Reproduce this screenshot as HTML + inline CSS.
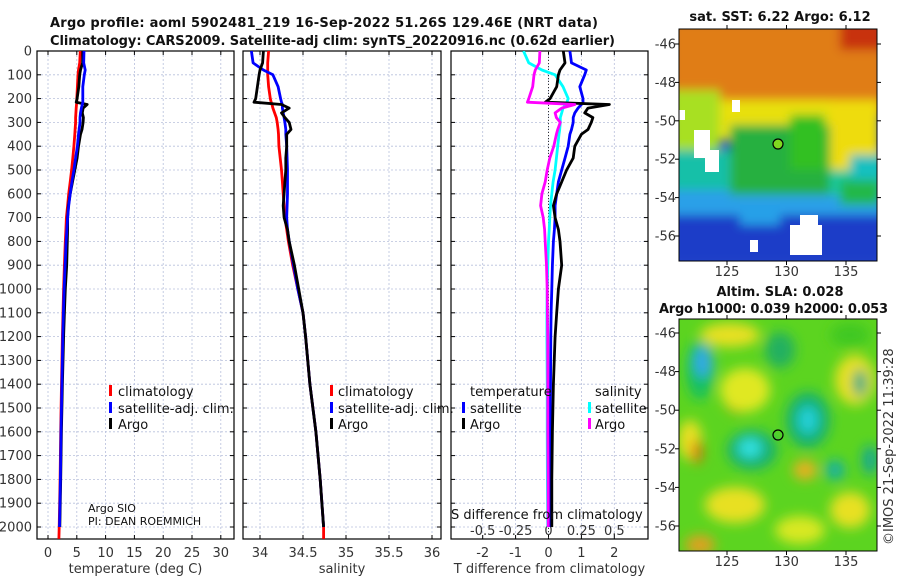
<!DOCTYPE html>
<html><head><meta charset="utf-8"><style>
html,body{margin:0;padding:0;background:#fff;}
svg{display:block;font-family:"DejaVu Sans","Liberation Sans",sans-serif;}
.tl{font-size:13px;fill:#333;}
.tt{font-size:13px;font-weight:bold;fill:#111;}
.lg{font-size:13px;fill:#111;}
</style></head><body>
<svg id="fig" width="900" height="580" viewBox="0 0 900 580">
<defs>
<clipPath id="c1"><rect x="37" y="51" width="197" height="488"/></clipPath>
<clipPath id="c2"><rect x="243" y="51" width="198" height="488"/></clipPath>
<clipPath id="c3"><rect x="451" y="51" width="197" height="488"/></clipPath>
<clipPath id="cm1"><rect x="679" y="29" width="198" height="232"/></clipPath>
<clipPath id="cm2"><rect x="679" y="319" width="198" height="232"/></clipPath>
<filter id="bl" x="-50%" y="-50%" width="200%" height="200%"><feGaussianBlur stdDeviation="6"/></filter>
<filter id="bl2" filterUnits="userSpaceOnUse" x="650" y="0" width="260" height="290"><feGaussianBlur stdDeviation="5"/></filter>
</defs>
<text class="tt" x="50" y="27" textLength="548">Argo profile: aoml 5902481_219 16-Sep-2022 51.26S 129.46E (NRT data)</text>
<text class="tt" x="50" y="45" textLength="565">Climatology: CARS2009. Satellite-adj clim: synTS_20220916.nc (0.62d earlier)</text>
<g id="axes"></g>
<g id="lines"></g>

<g>
<rect x="109" y="385" width="3" height="11" fill="#f00"/><text class="lg" x="118" y="396">climatology</text>
<rect x="109" y="402" width="3" height="11" fill="#00f"/><text class="lg" x="118" y="413">satellite-adj. clim.</text>
<rect x="109" y="418" width="3" height="11" fill="#000"/><text class="lg" x="118" y="429">Argo</text>
</g>
<g>
<rect x="330" y="385" width="3" height="11" fill="#f00"/><text class="lg" x="338" y="396">climatology</text>
<rect x="330" y="402" width="3" height="11" fill="#00f"/><text class="lg" x="338" y="413">satellite-adj. clim.</text>
<rect x="330" y="418" width="3" height="11" fill="#000"/><text class="lg" x="338" y="429">Argo</text>
</g>
<g>
<text class="lg" x="470" y="396">temperature</text>
<rect x="462" y="402" width="3" height="11" fill="#00f"/><text class="lg" x="470" y="413">satellite</text>
<rect x="462" y="418" width="3" height="11" fill="#000"/><text class="lg" x="470" y="429">Argo</text>
<text class="lg" x="595" y="396">salinity</text>
<rect x="588" y="402" width="3" height="11" fill="#0ff"/><text class="lg" x="595" y="413">satellite</text>
<rect x="588" y="418" width="3" height="11" fill="#f0f"/><text class="lg" x="595" y="429">Argo</text>
</g>
<text x="88" y="512" style="font-size:11px" fill="#111">Argo SIO</text>
<text x="88" y="525" style="font-size:11px" fill="#111">PI: DEAN ROEMMICH</text>
<text class="lg" x="451" y="519">S difference from climatology</text>

<text class="tt" x="780" y="21" text-anchor="middle">sat. SST: 6.22 Argo: 6.12</text>
<g clip-path="url(#cm1)">
<rect x="679" y="29" width="198" height="232" fill="#1e4fd0"/>
<g filter="url(#bl2)">
<rect x="670" y="20" width="215" height="95" fill="#e07d12"/>
<rect x="840" y="20" width="45" height="30" fill="#c8300c"/>
<rect x="670" y="180" width="215" height="45" fill="#2aa0e8"/>
<rect x="670" y="150" width="120" height="40" fill="#12c0a8"/>
<rect x="790" y="150" width="95" height="45" fill="#18c8a0"/>
<rect x="670" y="90" width="50" height="60" fill="#a8e020"/>
<rect x="720" y="100" width="160" height="40" fill="#e8e010"/>
<rect x="830" y="100" width="50" height="70" fill="#eedc10"/>
<rect x="730" y="125" width="100" height="70" fill="#28b040"/>
<rect x="790" y="115" width="35" height="55" fill="#30c020"/>
<rect x="850" y="155" width="30" height="40" fill="#18c0c0"/>
<rect x="840" y="180" width="40" height="25" fill="#24b848"/>
<rect x="670" y="215" width="215" height="50" fill="#1a3ec8"/>
<rect x="740" y="205" width="40" height="20" fill="#28a0e8"/>
</g>
<rect x="790" y="225" width="32" height="30" fill="#fff"/>
<rect x="800" y="215" width="18" height="12" fill="#fff"/>
<rect x="694" y="130" width="16" height="28" fill="#fff"/>
<rect x="705" y="150" width="14" height="22" fill="#fff"/>
<rect x="732" y="100" width="8" height="12" fill="#fff"/>
<rect x="750" y="240" width="8" height="12" fill="#fff"/>
<rect x="679" y="110" width="6" height="10" fill="#fff"/>
</g>
<rect x="679" y="29" width="198" height="232" fill="none" stroke="#000"/>
<circle cx="778" cy="144" r="5" fill="#80d820" stroke="#000" stroke-width="1.2"/>

<text class="tt" x="780" y="296" text-anchor="middle">Altim. SLA: 0.028</text>
<text class="tt" x="659" y="313" textLength="229">Argo h1000: 0.039 h2000: 0.053</text>
<g clip-path="url(#cm2)">
<rect x="679" y="319" width="198" height="232" fill="#5cd420"/>
<g filter="url(#bl)">
<ellipse cx="700" cy="370" rx="14" ry="30" fill="#18c060"/>
<ellipse cx="703" cy="362" rx="9" ry="16" fill="#30a8e8"/>
<ellipse cx="740" cy="400" rx="16" ry="13" fill="#e08010"/>
<ellipse cx="745" cy="390" rx="25" ry="22" fill="#e0e820"/>
<ellipse cx="690" cy="440" rx="12" ry="20" fill="#e8e020"/>
<ellipse cx="697" cy="452" rx="5" ry="12" fill="#e06810"/>
<ellipse cx="808" cy="420" rx="22" ry="28" fill="#18b070"/>
<ellipse cx="808" cy="420" rx="10" ry="14" fill="#20d0d8"/>
<ellipse cx="752" cy="450" rx="25" ry="20" fill="#18b070"/>
<ellipse cx="750" cy="448" rx="12" ry="10" fill="#30e0e0"/>
<ellipse cx="855" cy="380" rx="20" ry="25" fill="#e8e020"/>
<ellipse cx="860" cy="383" rx="7" ry="14" fill="#18a888"/>
<ellipse cx="835" cy="470" rx="10" ry="10" fill="#18b0a0"/>
<ellipse cx="870" cy="460" rx="8" ry="15" fill="#18a890"/>
<ellipse cx="735" cy="505" rx="30" ry="18" fill="#e8e020"/>
<ellipse cx="805" cy="470" rx="12" ry="10" fill="#e8b020"/>
<ellipse cx="850" cy="510" rx="20" ry="18" fill="#e8e020"/>
<ellipse cx="800" cy="530" rx="25" ry="14" fill="#d8e820"/>
<ellipse cx="780" cy="350" rx="15" ry="18" fill="#20b060"/>
<ellipse cx="730" cy="335" rx="30" ry="12" fill="#e8e020"/>
<ellipse cx="850" cy="335" rx="20" ry="12" fill="#40c820"/>
<ellipse cx="700" cy="545" rx="15" ry="10" fill="#e0a020"/>
</g>
</g>
<rect x="679" y="319" width="198" height="232" fill="none" stroke="#000"/>
<circle cx="778" cy="435" r="5" fill="none" stroke="#000" stroke-width="1.2"/>
<text class="tl" transform="translate(893,545) rotate(-90)">©IMOS 21-Sep-2022 11:39:28</text>
<g id="mapaxes"></g>
</svg>
<script>
const depths = [0,50,80,100,150,200,215,225,240,260,280,300,330,350,400,450,500,550,600,650,700,750,800,900,1000,1100,1200,1400,1600,1800,2000,2050];
const tempClim = [5.6,5.5,5.3,5.2,5.1,5.0,5.0,4.95,4.9,4.85,4.8,4.8,4.7,4.65,4.5,4.3,4.1,3.85,3.6,3.4,3.2,3.1,3.0,2.85,2.7,2.6,2.5,2.35,2.2,2.1,1.95,1.9];
const tempSat = [6.25,6.2,6.45,6.3,6.05,6.05,6.05,5.95,5.8,5.65,5.55,5.55,5.4,5.3,5.1,4.8,4.5,4.15,3.85,3.6,3.4,3.28,3.15,2.97,2.8,2.68,2.57,2.41,2.25,2.15,2.0,null];
const tempArgo = [6.05,6.0,5.65,5.5,5.35,5.05,4.9,6.8,6.1,5.95,6.15,6.1,5.9,5.65,5.3,5.05,4.65,4.25,3.85,3.55,3.4,3.4,3.35,3.25,3.0,2.85,2.7,2.5,2.32,2.2,2.05,null];
const salClim = [34.10,34.09,34.09,34.09,34.10,34.12,34.13,34.14,34.15,34.17,34.19,34.20,34.21,34.215,34.22,34.235,34.25,34.26,34.27,34.28,34.29,34.31,34.33,34.38,34.44,34.50,34.53,34.58,34.65,34.70,34.74,34.74];
const salSat = [33.90,33.92,34.04,34.15,34.21,34.24,34.25,34.26,34.26,34.27,34.28,34.29,34.30,34.30,34.31,34.315,34.32,34.32,34.32,34.315,34.31,34.32,34.34,34.39,34.44,34.50,34.53,34.58,34.65,34.70,34.74,null];
const salArgo = [34.04,34.03,34.00,33.99,33.97,33.95,33.93,34.25,34.34,34.25,34.29,34.34,34.36,34.31,34.31,34.30,34.30,34.29,34.28,34.27,34.28,34.32,34.34,34.40,34.45,34.50,34.53,34.58,34.65,34.70,34.74,null];
const dTempSat = [0.65,0.7,1.15,1.1,0.95,1.05,1.05,1.0,0.9,0.8,0.75,0.75,0.7,0.65,0.6,0.5,0.4,0.3,0.25,0.2,0.2,0.18,0.15,0.12,0.1,0.08,0.07,0.06,0.05,0.05,0.05,null];
const dTempArgo = [0.45,0.5,0.35,0.3,0.25,0.05,-0.1,1.85,1.2,1.1,1.35,1.3,1.2,1.0,0.8,0.75,0.55,0.4,0.25,0.15,0.2,0.3,0.35,0.4,0.3,0.25,0.2,0.15,0.12,0.1,0.1,null];
const dSalSat = [-0.19,-0.15,-0.05,0.05,0.11,0.15,0.14,0.13,0.11,0.10,0.09,0.09,0.085,0.08,0.07,0.06,0.05,0.035,0.025,0.015,0.01,0.005,0,-0.005,-0.01,-0.012,-0.012,-0.01,-0.01,-0.008,-0.005,null];
const dSalArgo = [-0.065,-0.07,-0.1,-0.11,-0.12,-0.15,-0.16,0.2,0.1,0.05,0.06,0.09,0.07,0.06,0.04,0.01,-0.01,-0.025,-0.05,-0.06,-0.04,-0.03,-0.025,-0.015,-0.01,-0.008,-0.006,-0.005,-0.005,-0.003,-0.002,null];
const depthTicks = [0,100,200,300,400,500,600,700,800,900,1000,1100,1200,1300,1400,1500,1600,1700,1800,1900,2000];
const tempTicks = [0,5,10,15,20,25,30];
const salTicks = [34,34.5,35,35.5,36];
const salTickLabels = ["34","34.5","35","35.5","36"];
const dTempTicks = [-2,-1,0,1,2];
const dSalTicks = [-0.5,-0.25,0,0.25,0.5];
const dSalTickLabels = ["-0.5","-0.25","0","0.25","0.5"];
const lonTicks = [125,130,135];
const latTicks = [-46,-48,-50,-52,-54,-56];

const yD = d => 51 + d*0.238;
const xT = t => 48 + t*5.76;
const xS = s => 260 + (s-34)*86;
const xDT = v => 548.5 + v*32.9;
const xDS = s => xDT(4*s);
const xLon = l => 727 + (l-125)*11.9;
const yLat1 = a => 44 + (-46 - a)*19.2;
const yLat2 = a => 333 + (-46 - a)*19.3;

const NS = "http://www.w3.org/2000/svg";
function mk(tag, attrs, parent){const e=document.createElementNS(NS,tag);for(const k in attrs)e.setAttribute(k,attrs[k]);parent.appendChild(e);return e;}
const axes = document.getElementById('axes');
const lines = document.getElementById('lines');
const mapaxes = document.getElementById('mapaxes');

const panels = [
 {x0:37,x1:234,ticks:tempTicks,labels:tempTicks.map(String),fx:xT,name:'temperature',xl:'temperature (deg C)',ylab:true},
 {x0:243,x1:441,ticks:salTicks,labels:salTickLabels,fx:xS,name:'salinity',xl:'salinity',ylab:false},
 {x0:451,x1:648,ticks:dTempTicks,labels:dTempTicks.map(String),fx:xDT,name:'difference',xl:'T difference from climatology',ylab:false}
];
const Y0=51, Y1=539;
panels.forEach(p=>{
  const g = mk('g',{},axes);
  
  
  depthTicks.forEach(d=>{
    const y=yD(d);
    const gl=mk('line',{x1:p.x0,x2:p.x1,y1:y,y2:y,stroke:'#b8c0dc','stroke-width':0.8,'stroke-dasharray':'2,2'},g);
    
    
    mk('line',{x1:p.x0,x2:p.x0+4,y1:y,y2:y,stroke:'#000'},g);
    mk('line',{x1:p.x1-4,x2:p.x1,y1:y,y2:y,stroke:'#000'},g);
    if(p.ylab){
      const t=mk('text',{x:32,y:y+4.5,'text-anchor':'end',class:'tl'},g);
      t.textContent=d;
      
      
    }
  });
  p.ticks.forEach((v,i)=>{
    const x=p.fx(v);
    const gl=mk('line',{x1:x,x2:x,y1:Y0,y2:Y1,stroke:'#b8c0dc','stroke-width':0.8,'stroke-dasharray':'2,2'},g);
    
    
    mk('line',{x1:x,x2:x,y1:Y0,y2:Y0+4,stroke:'#000'},g);
    mk('line',{x1:x,x2:x,y1:Y1-4,y2:Y1,stroke:'#000'},g);
    const t=mk('text',{x:x,y:557,'text-anchor':'middle',class:'tl'},g);
    t.textContent=p.labels[i];
    
    
  });
  const fr=mk('rect',{x:p.x0,y:Y0,width:p.x1-p.x0,height:Y1-Y0,fill:'none',stroke:'#000','stroke-width':1.2},g);
  
  
  const xl=mk('text',{x:(p.x0+p.x1)/2,y:573,'text-anchor':'middle',class:'tl'},g);
  xl.textContent=p.xl;
  
  
});
dSalTicks.forEach((v,i)=>{
  const t=mk('text',{x:xDS(v),y:535,'text-anchor':'middle',class:'tl'},axes);
  t.textContent=dSalTickLabels[i];
  
  
});
const zl=mk('line',{x1:xDT(0),x2:xDT(0),y1:Y0,y2:Y1,stroke:'#333','stroke-width':1,'stroke-dasharray':'1,2'},axes);



function series(vals, fx, color, clip, name){
  let d='';let pen=false;
  vals.forEach((v,i)=>{
    if(v===null){pen=false;return;}
    d += (pen?'L':'M') + fx(v).toFixed(1) + ',' + yD(depths[i]).toFixed(1);
    pen=true;
  });
  const p=mk('path',{d:d,fill:'none',stroke:color,'stroke-width':2.8,'stroke-linejoin':'round','clip-path':'url(#'+clip+')'},lines);
  
  
}
series(tempClim,xT,'#f00','c1','temperature-climatology-line');
series(tempArgo,xT,'#000','c1','temperature-argo-line');
series(tempSat,xT,'#00f','c1','temperature-satellite-line');
series(salClim,xS,'#f00','c2','salinity-climatology-line');
series(salSat,xS,'#00f','c2','salinity-satellite-line');
series(salArgo,xS,'#000','c2','salinity-argo-line');
series(dSalSat,xDS,'#0ff','c3','salinity-satellite-difference-line');
series(dTempSat,xDT,'#00f','c3','temperature-satellite-difference-line');
series(dTempArgo,xDT,'#000','c3','temperature-argo-difference-line');
series(dSalArgo,xDS,'#f0f','c3','salinity-argo-difference-line');

[[yLat1,29,261,276],[yLat2,319,551,566]].forEach(m=>{
  latTicks.forEach(a=>{
    const y=m[0](a);
    mk('line',{x1:679,x2:675,y1:y,y2:y,stroke:'#000'},mapaxes);
    mk('line',{x1:877,x2:881,y1:y,y2:y,stroke:'#000'},mapaxes);
    const t=mk('text',{x:676,y:y+4.5,'text-anchor':'end',class:'tl'},mapaxes);
    t.textContent=a;
    
    
  });
  lonTicks.forEach(l=>{
    const x=xLon(l);
    mk('line',{x1:x,x2:x,y1:m[2],y2:m[2]+4,stroke:'#000'},mapaxes);
    mk('line',{x1:x,x2:x,y1:m[1],y2:m[1]-4,stroke:'#000'},mapaxes);
    const t=mk('text',{x:x,y:m[3],'text-anchor':'middle',class:'tl'},mapaxes);
    t.textContent=l;
    
    
  });
});
</script>
</body></html>
